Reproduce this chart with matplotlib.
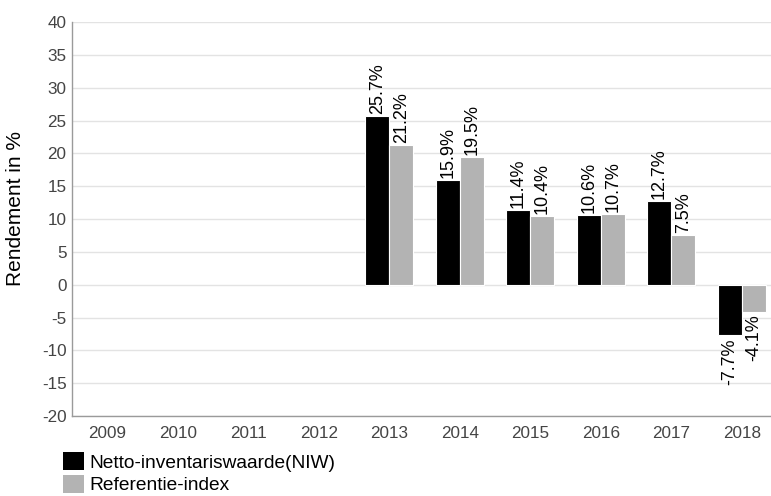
import numpy as np
import matplotlib
matplotlib.use("Agg")
import matplotlib.pyplot as plt
from matplotlib.patches import Patch

plt.rcParams['font.family'] = ['Liberation Sans', 'DejaVu Sans']
plt.rcParams['axes.unicode_minus'] = False

years = ['2009', '2010', '2011', '2012', '2013', '2014', '2015', '2016', '2017', '2018']
niw = [np.nan, np.nan, np.nan, np.nan, 25.7, 15.9, 11.4, 10.6, 12.7, -7.7]
ref = [np.nan, np.nan, np.nan, np.nan, 21.2, 19.5, 10.4, 10.7, 7.5, -4.1]
series_names = ['Netto-inventariswaarde(NIW)', 'Referentie-index']
colors = ['#000000', '#b3b3b3']
yticks = [-20, -15, -10, -5, 0, 5, 10, 15, 20, 25, 30, 35, 40]

fig = plt.figure(figsize=(7.71, 4.96), dpi=100)
ax = fig.add_axes([72/771, 1-416/496, (777-72)/771, (416-22)/496])

x = np.arange(len(years))
w = 0.34
for vals, off, col in [(niw, -w/2, colors[0]), (ref, w/2, colors[1])]:
    ax.bar(x + off, vals, width=w, color=col, edgecolor='white', linewidth=0.8, zorder=3)
    for xi, v in zip(x + off, vals):
        if np.isnan(v):
            continue
        if v >= 0:
            ax.annotate(f'{v:.1f}%', (xi, v), xytext=(0, 1.5), textcoords='offset points',
                        rotation=90, ha='center', va='bottom', fontsize=13, color='#000000')
        else:
            ax.annotate(f'{v:.1f}%', (xi, v), xytext=(0, -2), textcoords='offset points',
                        rotation=90, ha='center', va='top', fontsize=13, color='#000000')

ax.set_xlim(-0.5, len(years) - 0.5)
ax.set_ylim(-20, 40)
ax.set_yticks(yticks)
ax.set_xticks(x)
ax.set_xticklabels(years)
ax.tick_params(axis='both', length=0, labelsize=12.3, labelcolor='#444444')
ax.tick_params(axis='y', pad=4)
ax.tick_params(axis='x', pad=7)
ax.grid(axis='y', color='#e3e3e3', linewidth=1, zorder=0)
ax.set_axisbelow(True)
for s in ['top', 'right']:
    ax.spines[s].set_visible(False)
for s in ['left', 'bottom']:
    ax.spines[s].set_color('#9a9a9a')
    ax.spines[s].set_linewidth(1)

ax.set_ylabel('Rendement in %', fontsize=15, color='#000000')
ax.yaxis.set_label_coords((25-72)/705, (416-208)/394)

handles = [Patch(facecolor=c, edgecolor='none') for c in colors]
fig.legend(handles, series_names, loc='upper left', bbox_to_anchor=(63/771, 1-452/496),
           frameon=False, fontsize=13.8, handlelength=1.1, handleheight=1.1,
           handletextpad=0.3, labelspacing=0.15, borderpad=0, borderaxespad=0)

fig.savefig('out.png', dpi=100)
